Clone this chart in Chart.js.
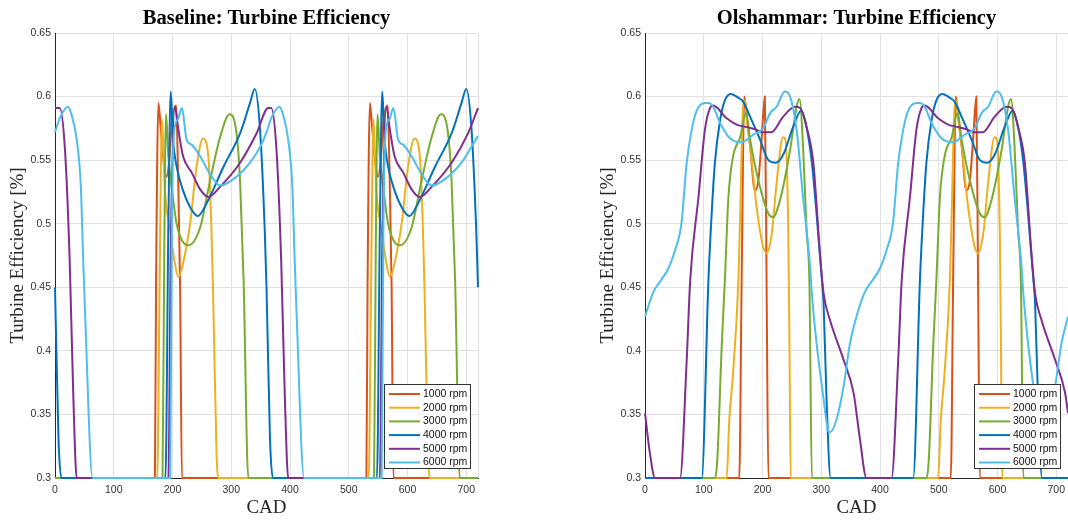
<!DOCTYPE html>
<html>
<head>
<meta charset="utf-8">
<script src="https://cdn.jsdelivr.net/npm/chart.js@4/dist/chart.umd.min.js"></script>
<style>
  html, body { margin: 0; padding: 0; background: #fff; overflow: hidden; width: 1068px; height: 523px; }
  .panel { position: absolute; top: 0; width: 534px; height: 523px; }
</style>
</head>
<body>
<div class="panel" style="left:0"><canvas id="baseline" width="534" height="523"></canvas></div>
<div class="panel" style="left:590px"><canvas id="olshammar" width="534" height="523"></canvas></div>
<script>
// engine speeds and tick labels
const rpmLabels = ['1000 rpm', '2000 rpm', '3000 rpm', '4000 rpm', '5000 rpm', '6000 rpm'];
const cadTicks = [0, 100, 200, 300, 400, 500, 600, 700, 720];
const effTicks = [0.3, 0.35, 0.4, 0.45, 0.5, 0.55, 0.6, 0.65];

// baseline turbine efficiency, [CAD, efficiency]
const base1000 = [[0,0.3],[170,0.3],[172,0.45],[176,0.595],[180,0.575],[184,0.553],[190,0.537],[195,0.553],[199,0.58],[206,0.593],[210,0.527],[213,0.448],[216,0.3],
  [530,0.3],[532,0.45],[536,0.595],[540,0.575],[544,0.553],[550,0.537],[555,0.553],[559,0.58],[566,0.593],[570,0.527],[573,0.448],[576,0.3],[720,0.3]];
const base2000 = [[0,0.3],[174,0.3],[178,0.45],[182,0.582],[185,0.55],[187,0.527],[196,0.495],[204,0.469],[210,0.458],[218,0.469],[230,0.5],[241,0.545],[252,0.567],[261,0.553],[266,0.5],[269,0.448],[275,0.318],[278,0.3],
  [534,0.3],[538,0.45],[542,0.582],[545,0.55],[547,0.527],[556,0.495],[564,0.469],[570,0.458],[578,0.469],[590,0.5],[601,0.545],[612,0.567],[621,0.553],[626,0.5],[629,0.448],[635,0.318],[638,0.3],[720,0.3]];
const base3000 = [[0,0.3],[183,0.3],[186,0.48],[189,0.586],[193,0.553],[199,0.527],[207,0.5],[216,0.487],[227,0.483],[247,0.497],[264,0.534],[281,0.568],[297,0.586],[309,0.571],[315,0.534],[321,0.456],[329,0.3],
  [543,0.3],[546,0.48],[549,0.586],[553,0.553],[559,0.527],[567,0.5],[576,0.487],[587,0.483],[607,0.497],[624,0.534],[641,0.568],[657,0.586],[669,0.571],[675,0.534],[681,0.456],[689,0.3],[720,0.3]];
const base4000 = [[0,0.45],[6,0.33],[11,0.3],[188,0.3],[193,0.5],[197,0.604],[201,0.566],[207,0.545],[218,0.526],[230,0.513],[243,0.506],[258,0.516],[287,0.545],[315,0.571],[332,0.595],[340,0.606],[349,0.574],[357,0.495],[360,0.45],[366,0.33],[371,0.3],
  [548,0.3],[553,0.5],[557,0.604],[561,0.566],[567,0.545],[578,0.526],[590,0.513],[603,0.506],[618,0.516],[647,0.545],[675,0.571],[692,0.595],[700,0.606],[709,0.574],[717,0.495],[720,0.45]];
const base5000 = [[0,0.591],[8,0.591],[17,0.558],[25,0.471],[31,0.367],[37,0.3],[193,0.3],[197,0.48],[204,0.592],[210,0.574],[218,0.553],[233,0.54],[247,0.527],[261,0.521],[281,0.529],[315,0.548],[343,0.571],[363,0.591],[368,0.591],[377,0.558],[385,0.471],[391,0.367],[397,0.3],
  [553,0.3],[557,0.48],[564,0.592],[570,0.574],[578,0.553],[593,0.54],[607,0.527],[621,0.521],[641,0.529],[675,0.548],[703,0.571],[720,0.591]];
const base6000 = [[0,0.572],[9,0.584],[22,0.592],[28,0.586],[37,0.566],[44,0.529],[48,0.471],[51,0.432],[64,0.3],[196,0.3],[199,0.5],[203,0.573],[209,0.582],[216,0.591],[224,0.566],[233,0.562],[247,0.553],[264,0.539],[281,0.53],[309,0.537],[332,0.548],[352,0.563],
  [360,0.572],[369,0.584],[382,0.592],[388,0.586],[397,0.566],[404,0.529],[408,0.471],[411,0.432],[424,0.3],[556,0.3],[559,0.5],[563,0.573],[569,0.582],[576,0.591],[584,0.566],[593,0.562],[607,0.553],[624,0.539],[641,0.53],[669,0.537],[692,0.548],[712,0.563],[720,0.569]];

// Olshammar turbine efficiency, [CAD, efficiency]
const olsh1000 = [[0,0.3],[160.5,0.3],[164.5,0.456],[169,0.6],[174,0.58],[179,0.561],[187,0.526],[193,0.534],[199,0.57],[204,0.6],[207,0.45],[210,0.3],
  [520.5,0.3],[524.5,0.456],[529,0.6],[534,0.58],[539,0.561],[547,0.526],[553,0.534],[559,0.57],[564,0.6],[567,0.45],[570,0.3],[720,0.3]];
const olsh2000 = [[0,0.3],[139,0.3],[143.5,0.346],[149,0.377],[159,0.456],[162,0.508],[167,0.592],[170,0.597],[174,0.58],[179,0.561],[190,0.513],[201,0.482],[207,0.477],[216,0.493],[224,0.532],[235,0.568],[239,0.566],[244,0.49],[246,0.4],[248,0.3],
  [499,0.3],[503.5,0.346],[509,0.377],[519,0.456],[522,0.508],[527,0.592],[530,0.597],[534,0.58],[539,0.561],[550,0.513],[561,0.482],[567,0.477],[576,0.493],[584,0.532],[595,0.568],[599,0.566],[604,0.49],[606,0.4],[608,0.3],[720,0.3]];
const olsh3000 = [[0,0.3],[119,0.3],[123,0.314],[130.5,0.403],[136,0.456],[142,0.521],[150,0.553],[162,0.568],[172,0.587],[179,0.566],[193,0.534],[210,0.508],[218,0.505],[230,0.519],[247,0.558],[258,0.592],[263,0.598],[269,0.561],[275,0.495],[280,0.45],[284,0.3],
  [479,0.3],[483,0.314],[490.5,0.403],[496,0.456],[502,0.521],[510,0.553],[522,0.568],[532,0.587],[539,0.566],[553,0.534],[570,0.508],[578,0.505],[590,0.519],[607,0.558],[618,0.592],[623,0.598],[629,0.561],[635,0.495],[640,0.45],[644,0.3],[720,0.3]];
const olsh4000 = [[0,0.3],[96.5,0.3],[108,0.456],[113.5,0.508],[119,0.548],[128,0.582],[136,0.597],[146,0.602],[159,0.599],[167,0.596],[179,0.584],[196,0.566],[210,0.55],[223,0.548],[236,0.555],[252,0.576],[266,0.589],[275,0.576],[284,0.548],[292,0.508],[301,0.457],[304,0.437],[309,0.362],[316,0.3],
  [456.5,0.3],[468,0.456],[473.5,0.508],[479,0.548],[488,0.582],[496,0.597],[506,0.602],[519,0.599],[527,0.596],[539,0.584],[556,0.566],[570,0.55],[583,0.548],[596,0.555],[612,0.576],[626,0.589],[635,0.576],[644,0.548],[652,0.508],[661,0.457],[664,0.437],[669,0.362],[676,0.3],[720,0.3]];
const olsh5000 = [[0,0.351],[8.5,0.319],[17,0.3],[59.6,0.3],[71,0.393],[77,0.456],[91,0.521],[102,0.574],[110.6,0.591],[116,0.593],[139,0.583],[156,0.578],[173,0.576],[186,0.5745],[201,0.572],[215,0.572],[235,0.584],[255,0.592],[264,0.591],[275,0.576],[286.5,0.548],[298,0.475],[304,0.445],[315,0.424],[338,0.393],[355,0.367],[366,0.33],[377,0.3],
  [419.6,0.3],[431,0.393],[437,0.456],[451,0.521],[462,0.574],[470.6,0.591],[476,0.593],[499,0.583],[516,0.578],[533,0.576],[546,0.5745],[561,0.572],[575,0.572],[595,0.584],[615,0.592],[624,0.591],[635,0.576],[646.5,0.548],[658,0.475],[664,0.445],[675,0.424],[698,0.393],[715,0.367],[720,0.351]];
const olsh6000 = [[0,0.427],[14,0.446],[28,0.456],[40,0.465],[51,0.479],[62,0.5],[71,0.548],[79.5,0.574],[88,0.589],[102,0.595],[108,0.595],[116,0.592],[128,0.579],[145,0.567],[164.5,0.564],[184,0.57],[201,0.575],[213,0.587],[224,0.592],[238,0.604],[247,0.6],[258,0.574],[269,0.521],[281,0.466],[284,0.445],[292,0.406],[304,0.362],[312,0.337],[315,0.336],[326,0.346],[338,0.372],[349,0.406],
  [360,0.427],[374,0.446],[388,0.456],[400,0.465],[411,0.479],[422,0.5],[431,0.548],[439.5,0.574],[448,0.589],[462,0.595],[468,0.595],[476,0.592],[488,0.579],[505,0.567],[524.5,0.564],[544,0.57],[561,0.575],[573,0.587],[584,0.592],[598,0.604],[607,0.6],[618,0.574],[629,0.521],[641,0.466],[644,0.445],[652,0.406],[664,0.362],[672,0.337],[675,0.336],[686,0.346],[698,0.372],[709,0.406],[720,0.427]];

// MATLAB default line colours
const lineColors = ['#D95319', '#EDB120', '#77AC30', '#0072BD', '#7E2F8E', '#4DBEEE'];

const sansFont = '"Liberation Sans", Arial, Helvetica, sans-serif';
const serifFont = '"Liberation Serif", "Times New Roman", serif';

// centre the title over the plot area instead of the whole canvas
const titleOverPlot = {
  id: 'titleOverPlot',
  afterLayout(chart) {
    if (chart.titleBlock) {
      chart.titleBlock.left = chart.chartArea.left;
      chart.titleBlock.right = chart.chartArea.right;
    }
  }
};

// boxed legend in the lower right corner of the plot area
const boxLegend = {
  id: 'boxLegend',
  afterDraw(chart) {
    const { ctx, chartArea } = chart;
    const w = 86, h = 84, rowH = 13.7;
    const x0 = chartArea.right - 8 - w;
    const y0 = chartArea.bottom - 10 - h;
    ctx.save();
    ctx.fillStyle = '#fff';
    ctx.fillRect(x0, y0, w, h);
    ctx.strokeStyle = '#333';
    ctx.lineWidth = 1;
    ctx.strokeRect(Math.round(x0) + 0.5, Math.round(y0) + 0.5, w, h);
    ctx.font = '10.5px ' + sansFont;
    ctx.textBaseline = 'middle';
    chart.data.datasets.forEach((ds, i) => {
      const y = y0 + 10 + i * rowH;
      ctx.strokeStyle = ds.borderColor;
      ctx.lineWidth = 2;
      ctx.beginPath();
      ctx.moveTo(x0 + 5, y);
      ctx.lineTo(x0 + 36, y);
      ctx.stroke();
      ctx.fillStyle = '#111';
      ctx.fillText(ds.label, x0 + 39, y);
    });
    ctx.restore();
  }
};

function makeChart(id, title, series) {
  const datasets = series.map((pts, i) => ({
    label: rpmLabels[i],
    data: pts.map(p => ({ x: p[0], y: p[1] })),
    borderColor: lineColors[i],
    borderWidth: 2,
    pointRadius: 0,
    cubicInterpolationMode: 'monotone',
    fill: false,
    clip: 3,
    order: series.length - i
  }));

  return new Chart(document.getElementById(id), {
    type: 'line',
    data: { datasets },
    plugins: [titleOverPlot, boxLegend],
    options: {
      responsive: false,
      animation: false,
      layout: { padding: { left: 0, right: 56, top: 0, bottom: 0 } },
      plugins: {
        legend: { display: false },
        tooltip: { enabled: false },
        title: {
          display: true,
          text: title,
          color: '#000',
          font: { family: serifFont, size: 20.5, weight: 'bold' },
          padding: { top: 6, bottom: 2.4 }
        }
      },
      scales: {
        x: {
          type: 'linear',
          min: 0,
          max: 720,
          afterBuildTicks: s => { s.ticks = cadTicks.map(v => ({ value: v })); },
          afterFit: s => { s.height = 45; },
          ticks: {
            color: '#333',
            font: { family: sansFont, size: 10.5 },
            padding: 6,
            maxRotation: 0,
            autoSkip: false,
            callback: v => (v === 720 ? '' : String(v))
          },
          grid: { color: '#e2e2e2', drawTicks: false },
          border: { color: '#262626', width: 1 },
          title: {
            display: true,
            text: 'CAD',
            color: '#262626',
            font: { family: serifFont, size: 19 },
            padding: { top: 0, bottom: 4 }
          }
        },
        y: {
          type: 'linear',
          min: 0.3,
          max: 0.65,
          afterBuildTicks: s => { s.ticks = effTicks.map(v => ({ value: v })); },
          afterFit: s => { s.width = 55; },
          ticks: {
            color: '#333',
            font: { family: sansFont, size: 10.5 },
            padding: 4,
            autoSkip: false,
            callback: v => String(Number(v.toFixed(2)))
          },
          grid: { color: '#e2e2e2', drawTicks: false },
          border: { color: '#262626', width: 1 },
          title: {
            display: true,
            text: 'Turbine Efficiency [%]',
            color: '#262626',
            font: { family: serifFont, size: 19 },
            padding: { top: 7, bottom: 0 }
          }
        }
      }
    }
  });
}

makeChart('baseline', 'Baseline: Turbine Efficiency', [base1000, base2000, base3000, base4000, base5000, base6000]);
makeChart('olshammar', 'Olshammar: Turbine Efficiency', [olsh1000, olsh2000, olsh3000, olsh4000, olsh5000, olsh6000]);
</script>
</body>
</html>
